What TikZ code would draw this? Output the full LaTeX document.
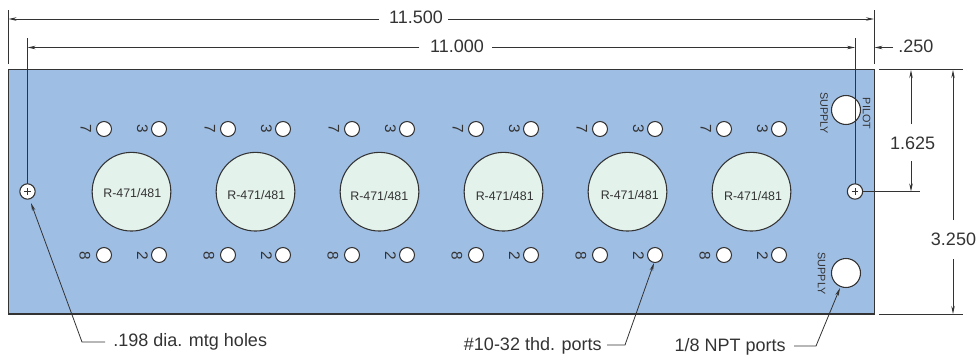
\documentclass[tikz,border=0pt]{standalone}
\usepackage{fontspec}
\setmainfont{Liberation Sans}
\usetikzlibrary{arrows.meta}
\definecolor{plate}{HTML}{9FBEE4}
\definecolor{pale}{HTML}{E4F2EC}
\definecolor{ink}{HTML}{333333}
\tikzset{
  x=0.75pt,y=-0.75pt,
  every node/.style={text=ink},
  port/.style={circle,draw=ink,fill=white,line width=.8pt,inner sep=0,outer sep=0,minimum size=11.25pt},
  bighole/.style={circle,draw=ink,fill=white,line width=.8pt,inner sep=0,outer sep=0,minimum size=21.75pt},
  valve/.style={circle,draw=ink,fill=pale,line width=.8pt,inner sep=0,outer sep=0,minimum size=59pt},
  mount/.style={circle,draw=ink,fill=white,line width=.8pt,inner sep=0,outer sep=0,minimum size=11.5pt},
  num/.style={rotate=-90,inner sep=0,font=\fontsize{11.5}{12}\selectfont},
  small/.style={rotate=-90,inner sep=0,font=\fontsize{8.1}{9}\selectfont},
  dimtext/.style={inner sep=0,font=\fontsize{13.5}{14}\selectfont},
  dimline/.style={draw=ink,line width=.6pt},
  arrowed/.style={dimline,-{Stealth[length=6pt,width=2.6pt]}},
}
\begin{document}
\begin{tikzpicture}
\useasboundingbox (0,0) rectangle (979,354);
\node[draw=ink,fill=plate,line width=.9pt,inner sep=0,outer sep=0,minimum width=649.4pt,minimum height=183.4pt,anchor=north west] (plate) at (8.5,69.5) {};

% ports and valves
\foreach \k/\ty/\tx in {0/197/132.3,1/199/256.3,2/200.7/379.3,3/200.7/504.7,4/199/629.7,5/200.7/753}{
  \pgfmathsetmacro{\cx}{131.5+124*\k}
  \pgfmathsetmacro{\xa}{104+124*\k}
  \pgfmathsetmacro{\xb}{159+124*\k}
  \node[valve] (v\k) at (\cx,191.7) {};
  \node[inner sep=0,anchor=base,font=\fontsize{9.3}{10}\selectfont] (vt\k) at (\tx,\ty) {R-471/481};
  \node[port] (p7\k) at (\xa,129) {};
  \node[port] (p3\k) at (\xb,129) {};
  \node[port] (p8\k) at (\xa,255) {};
  \node[port] (p2\k) at (\xb,255) {};
  \node[num] (n7\k) at (\xa-18,129) {7};
  \node[num] (n3\k) at (\xb-16.5,129) {3};
  \node[num] (n8\k) at (\xa-19,256) {8};
  \node[num] (n2\k) at (\xb-16.5,256) {2};
}

% large ports
\node[bighole] (pilothole) at (846,110) {};
\node[bighole] (supplyhole) at (846,273) {};
\node[small] (suptop) at (824,113) {SUPPLY};
\node[small] (pilot) at (866.7,113.5) {PILOT};
\node[small] (supbot) at (821.7,273.7) {SUPPLY};

% coordinates
\coordinate (a115) at (8.5,19);
\coordinate (b115) at (874,19);
\coordinate (s115) at (379,19);
\coordinate (r115) at (448,19);
\coordinate (e1t) at (8.5,10);
\coordinate (e1b) at (8.5,64);
\coordinate (e2t) at (874,10);
\coordinate (e2b) at (874,64);
\coordinate (a110) at (27.5,47.5);
\coordinate (b110) at (855,47.5);
\coordinate (s110) at (419.3,47.5);
\coordinate (r110) at (492,47.5);
\coordinate (e3t) at (27.5,38);
\coordinate (e4t) at (855,38);
\coordinate (tl) at (879,69.5);
\coordinate (tr) at (963,69.5);
\coordinate (bl) at (879,314);
\coordinate (br) at (963,314);
\coordinate (h) at (920,191.5);
\coordinate (a250) at (874.5,47.5);
\coordinate (b250) at (893,47.5);
\coordinate (a16t) at (911,70);
\coordinate (a16b) at (911,191.5);
\coordinate (s16t) at (911,124);
\coordinate (s16b) at (911,161);
\coordinate (a32t) at (953,70);
\coordinate (a32b) at (953,314);
\coordinate (s32t) at (953,220);
\coordinate (s32b) at (953,259);

% mounting holes
\node[mount] (ml) at (27.5,191.5) {};
\node[mount] (mr) at (855,191.5) {};
\draw[ink,line width=.5pt] (ml.center) ++(0,-3.3) -- ++(0,6.6) (ml.center) ++(-3.3,0) -- ++(6.6,0);
\draw[ink,line width=.5pt] (mr.center) ++(0,-3.3) -- ++(0,6.6) (mr.center) ++(-3.3,0) -- ++(6.6,0);

% extension lines
\draw[dimline] (e1t) -- (e1b);
\draw[dimline] (e2t) -- (e2b);
\draw[dimline] (e3t) -- (ml);
\draw[dimline] (e4t) -- (mr);
\draw[dimline] (tl) -- (tr);
\draw[dimline] (bl) -- (br);
\draw[dimline] (mr) -- (h);

% dimensions
\node[dimtext,anchor=base] (t115) at (416,23.5) {11.500};
\node[dimtext,anchor=base] (t110) at (457,52.5) {11.000};
\node[dimtext,anchor=base west] (t250) at (898,52) {.250};
\node[dimtext,anchor=base] (t16) at (912.7,149) {1.625};
\node[dimtext,anchor=base] (t32) at (953.5,245.7) {3.250};
\draw[arrowed] (s115) -- (a115);
\draw[arrowed] (r115) -- (b115);
\draw[arrowed] (s110) -- (a110);
\draw[arrowed] (r110) -- (b110);
\draw[arrowed] (b250) -- (a250);
\draw[arrowed] (s16t) -- (a16t);
\draw[arrowed] (s16b) -- (a16b);
\draw[arrowed] (s32t) -- (a32t);
\draw[arrowed] (s32b) -- (a32b);

% leaders
\node[dimtext,anchor=base west] (l1) at (113,346.7) {.198 dia. mtg holes};
\node[dimtext,anchor=base east] (l2) at (602,350) {\#10-32 thd. ports};
\node[dimtext,anchor=base east] (l3) at (786,351.7) {1/8 NPT ports};
\coordinate (k1) at (82,342);
\coordinate (k2) at (625,345);
\coordinate (k3) at (816,346);
\coordinate (f1) at (105,342);
\coordinate (f2) at (607,345);
\coordinate (f3) at (794,346);
\coordinate (g1) at (31,203);
\coordinate (g2) at (654,263);
\coordinate (g3) at (840,288);
\draw[arrowed] (f1) -- (k1) -- (g1);
\draw[arrowed] (f2) -- (k2) -- (g2);
\draw[arrowed] (f3) -- (k3) -- (g3);
\end{tikzpicture}
\end{document}
